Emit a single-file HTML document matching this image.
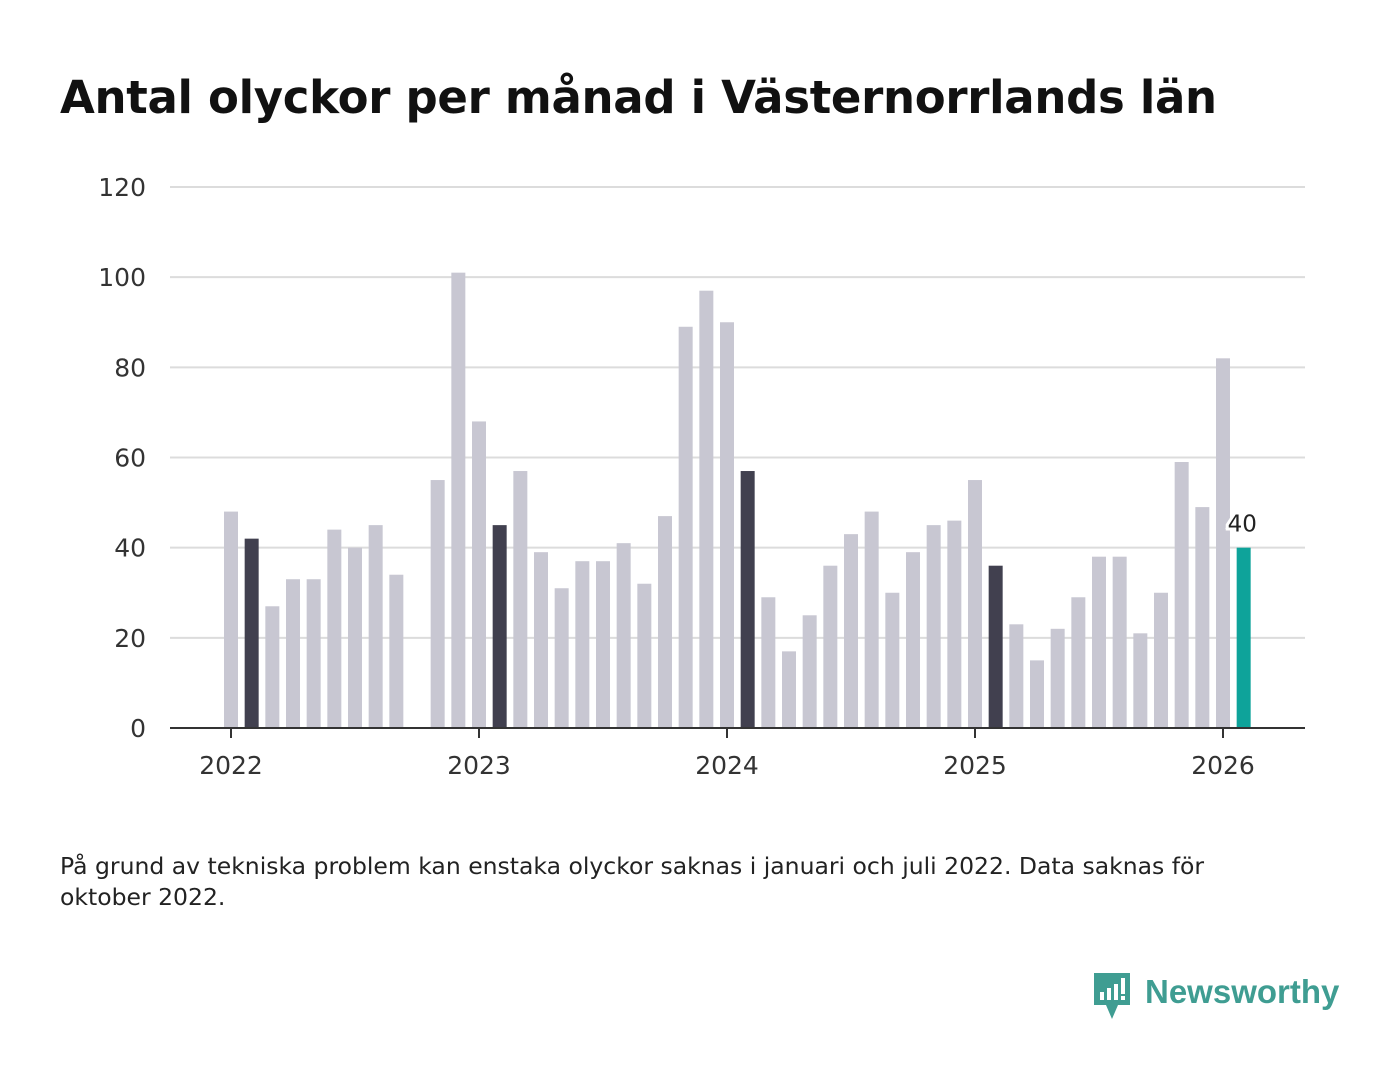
<!DOCTYPE html>
<html><head><meta charset="utf-8"><style>
body{margin:0;width:1400px;height:1080px;background:#fff;font-family:"DejaVu Sans","Liberation Sans",sans-serif;overflow:hidden;position:relative}
h1{position:absolute;left:60px;top:71px;margin:0;font-size:45px;font-weight:bold;color:#111;letter-spacing:-0.3px}
.note{position:absolute;left:60px;top:851px;font-size:23.5px;color:#222;line-height:31px;width:1225px}
.logo{position:absolute;left:1092px;top:970px}
</style></head><body>
<h1>Antal olyckor per månad i Västernorrlands län</h1>
<svg id="chart" width="1400" height="820" style="position:absolute;left:0;top:0"></svg>
<div class="note">På grund av tekniska problem kan enstaka olyckor saknas i januari och juli 2022. Data saknas för oktober 2022.</div>
<svg class="logo" width="260" height="52">
<path d="M2 3h36v32H26l-6 14-6-14H2z" fill="#3f9d92"/>
<rect x="8" y="22" width="4" height="8" fill="#fff"/><rect x="15" y="18" width="4" height="12" fill="#fff"/><rect x="22" y="14" width="4" height="16" fill="#fff"/><rect x="29" y="8" width="4" height="16" fill="#fff"/><rect x="29" y="26" width="4" height="4" fill="#fff"/>
<text x="53" y="33" font-family="Liberation Sans, sans-serif" font-size="33" font-weight="bold" fill="#3f9d92">Newsworthy</text>
</svg>
<script>
const months=["2022-01","2022-02","2022-03","2022-04","2022-05","2022-06","2022-07","2022-08","2022-09","2022-10","2022-11","2022-12","2023-01","2023-02","2023-03","2023-04","2023-05","2023-06","2023-07","2023-08","2023-09","2023-10","2023-11","2023-12","2024-01","2024-02","2024-03","2024-04","2024-05","2024-06","2024-07","2024-08","2024-09","2024-10","2024-11","2024-12","2025-01","2025-02","2025-03","2025-04","2025-05","2025-06","2025-07","2025-08","2025-09","2025-10","2025-11","2025-12","2026-01","2026-02"];
const values=[48,42,27,33,33,44,40,45,34,null,55,101,68,45,57,39,31,37,37,41,32,47,89,97,90,57,29,17,25,36,43,48,30,39,45,46,55,36,23,15,22,29,38,38,21,30,59,49,82,40];
const yTicks=[0,20,40,60,80,100,120];
const xYears=["2022","2023","2024","2025","2026"];
const svg=document.getElementById('chart');const NS='http://www.w3.org/2000/svg';
const y=v=>728-v*(541/120);
const x=i=>231+i*(248/12);
function mk(t,a){const e=document.createElementNS(NS,t);for(const k in a)e.setAttribute(k,a[k]);svg.appendChild(e);return e;}
yTicks.forEach(t=>{
 if(t>0){const g=mk('line',{x1:170,x2:1305,y1:y(t),y2:y(t),stroke:'#dcdcdc','stroke-width':2});
 
 }
 const l=mk('text',{x:146,y:y(t)+9,'text-anchor':'end','font-size':25,fill:'#333'});l.textContent=t;
 
 
});
values.forEach((v,i)=>{
 if(v==null)return;
 const last=i===values.length-1;const feb=months[i].endsWith('-02');
 const r=mk('rect',{x:x(i)-7,y:y(v),width:14,height:728-y(v),fill:last?'#0ea39a':(feb?'#41404f':'#c8c7d2')});
 
 
 if(last){const t=mk('text',{x:x(i)-16,y:y(v)-16,'text-anchor':'start','font-size':23,fill:'#222',stroke:'#fff','stroke-width':6,'paint-order':'stroke'});t.textContent=v;
 
 }
});
const b=mk('line',{x1:170,x2:1305,y1:728,y2:728,stroke:'#333','stroke-width':2});


xYears.forEach((yr,k)=>{
 const xi=x(k*12);
 const tk=mk('line',{x1:xi,x2:xi,y1:728,y2:738,stroke:'#333','stroke-width':2});
 
 
 const l=mk('text',{x:xi,y:774,'text-anchor':'middle','font-size':25,fill:'#333'});l.textContent=yr;
 
 
});
</script>
</body></html>
